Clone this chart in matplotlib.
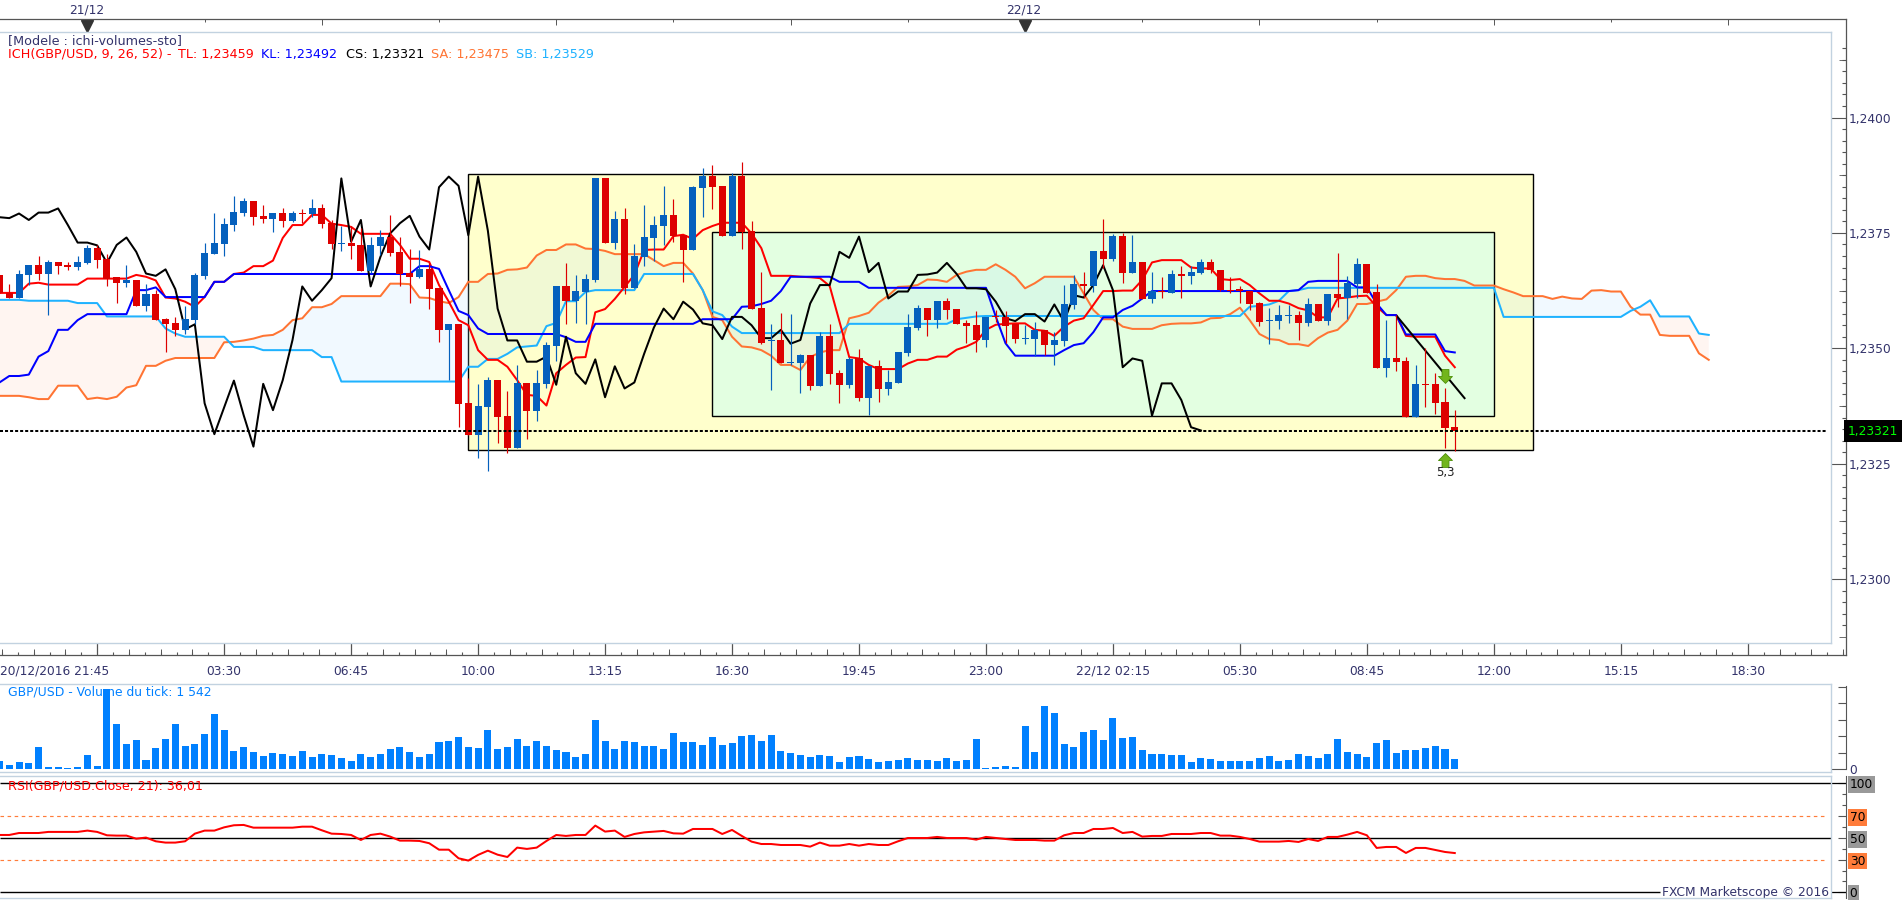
import numpy as np
import matplotlib
matplotlib.use("Agg")
import matplotlib.pyplot as plt
from matplotlib.lines import Line2D
from matplotlib.patches import Rectangle

# prices are kept in pips around 1,2350
BASE = 1.2350
PIP = 0.0001
LAST_PRICE = 1.23321

opens = [15.9,12.0,10.9,15.9,18.0,16.1,18.7,18.0,17.6,18.5,
         21.7,19.3,15.4,14.1,14.8,9.2,11.8,6.3,5.5,4.0,
         6.1,15.7,20.4,22.6,26.7,29.3,31.9,28.6,28.0,29.3,
         27.6,29.3,29.1,30.4,27.1,22.7,22.8,22.4,16.8,22.2,
         24.1,20.9,16.3,15.4,17.2,13.1,4.0,5.3,-11.8,-18.8,
         -12.7,-6.9,-14.7,-21.6,-7.5,-13.6,-7.7,0.5,13.5,10.2,
         12.2,14.8,36.9,22.8,28.0,13.1,19.8,23.9,26.5,28.9,
         24.5,21.3,34.7,37.3,35.2,24.3,37.3,25.4,8.7,1.5,
         1.8,-3.2,-3.2,-1.4,-8.2,2.6,-5.4,-7.9,-2.1,-10.8,
         -3.8,-8.8,-7.5,-1.0,4.4,8.7,6.1,10.2,8.5,5.5,
         5.0,1.8,6.9,6.8,5.3,2.1,2.0,4.0,0.7,1.6,
         9.4,14.0,13.5,21.1,19.3,24.3,16.3,18.7,10.7,12.4,
         12.0,16.1,15.7,16.3,18.7,17.0,12.6,12.8,12.4,9.8,
         5.9,5.9,7.1,7.2,5.5,9.6,6.0,11.8,10.9,14.0,
         18.3,12.2,-4.3,-2.1,-2.7,-14.9,-7.7,-7.7,-11.6,-17.0]
closes = [11.9,10.9,16.1,18.0,16.1,18.7,17.8,17.7,18.7,21.7,
          19.1,15.1,14.1,14.8,9.2,11.8,6.1,5.3,4.0,6.3,
          15.9,20.6,22.8,26.9,29.5,31.9,28.4,28.0,29.3,27.6,
          29.3,29.2,30.4,26.9,22.6,22.8,22.2,16.8,22.4,24.1,
          20.7,16.1,15.4,17.2,12.8,4.0,5.3,-12.1,-18.8,-12.5,
          -6.9,-14.9,-21.6,-7.5,-13.6,-7.5,0.7,13.5,10.2,12.4,
          15.0,36.9,22.8,28.0,13.1,20.0,24.1,26.7,28.9,24.3,
          21.3,34.9,37.3,34.9,24.3,37.3,25.2,8.5,1.2,1.8,
          -3.2,-3.0,-1.4,-8.2,2.6,-5.6,-7.9,-2.3,-10.8,-3.8,
          -8.8,-7.3,-0.8,4.6,8.7,6.1,10.2,8.3,5.3,4.9,
          1.8,6.8,6.7,4.8,2.0,2.2,4.0,0.7,1.8,9.6,
          14.0,13.6,21.1,19.3,24.3,16.3,18.7,10.7,12.4,12.1,
          16.1,15.7,16.5,18.7,17.0,12.6,12.4,12.4,9.6,5.7,
          6.1,7.2,7.2,5.5,9.6,6.0,11.8,10.9,14.2,18.3,
          12.0,-4.3,-2.1,-3.0,-14.9,-7.7,-7.9,-11.8,-17.3,-17.9]
highs = [15.9,13.9,17.0,18.0,20.0,19.1,18.7,18.7,20.0,22.4,
         22.4,20.4,15.4,18.0,14.8,13.9,12.6,6.6,6.8,9.2,
         16.3,22.8,29.3,28.2,33.0,32.6,31.9,31.0,29.3,30.4,
         29.7,30.2,32.3,31.3,27.8,26.5,26.5,26.0,24.1,25.6,
         28.9,24.2,21.5,21.3,18.4,13.1,5.3,5.3,-6.4,-7.7,
         -6.3,-6.9,-9.2,-3.6,-7.5,-4.7,1.4,13.5,18.5,15.9,
         16.1,36.9,36.9,29.7,30.4,22.6,31.0,28.7,35.2,32.3,
         24.5,35.2,39.1,39.7,35.2,38.0,40.4,27.6,16.5,5.3,
         7.6,7.4,-1.2,-1.4,3.5,5.3,-4.7,-1.9,-0.2,-3.8,
         -2.5,-4.7,-0.8,7.4,9.4,8.7,10.2,10.9,8.5,6.1,
         8.1,6.8,8.3,8.1,5.3,5.1,5.7,4.0,3.5,13.7,
         15.9,16.5,21.1,28.0,24.8,25.0,24.5,18.7,16.5,15.4,
         17.0,17.8,17.8,19.4,19.4,17.0,15.5,13.5,12.4,10.0,
         8.7,9.4,9.4,8.0,10.9,9.6,11.8,20.6,15.7,19.6,
         18.3,13.9,6.1,7.2,-1.9,-3.6,0.1,-5.3,-8.6,-13.4]
lows = [11.9,10.9,10.9,13.7,14.8,7.2,16.1,17.0,17.0,18.3,
        17.4,13.5,9.8,13.3,9.2,8.1,6.1,-0.8,2.7,3.1,
        5.3,15.0,20.4,20.0,25.4,28.6,26.7,27.1,25.2,26.3,
        27.3,27.1,28.4,26.0,21.5,21.1,19.3,16.8,16.3,20.2,
        20.0,13.5,9.8,15.2,8.5,1.4,-6.9,-17.0,-18.8,-23.8,
        -26.6,-20.5,-22.7,-21.6,-19.7,-15.7,-8.6,-2.7,5.3,5.5,
        5.3,14.4,22.8,21.5,11.8,13.1,17.8,18.9,22.4,23.0,
        14.4,21.3,28.4,30.2,24.3,24.3,21.5,8.5,0.9,-9.0,
        -3.2,-3.6,-9.7,-9.0,-8.2,-7.7,-11.8,-8.6,-11.4,-14.4,
        -11.6,-10.1,-7.5,-1.7,4.0,2.7,4.4,6.3,5.3,1.2,
        -0.8,0.3,5.8,1.2,1.2,0.9,-1.7,-1.4,-3.6,0.5,
        8.5,10.9,12.2,17.4,18.9,14.2,16.3,10.7,9.8,10.9,
        12.0,10.9,14.0,16.1,16.3,12.4,12.0,9.8,8.3,4.8,
        0.9,4.2,5.5,1.8,4.8,6.0,5.1,9.0,6.3,10.9,
        12.0,-4.3,-6.2,-4.9,-14.9,-14.9,-12.7,-14.2,-21.6,-22.2]

tenkan = [12.0,12.0,12.0,14.0,14.2,13.8,13.8,13.8,13.8,15.1,
          15.1,15.1,15.1,15.1,15.9,15.5,14.7,11.0,10.8,10.1,
          9.0,11.1,14.4,14.4,16.1,16.4,17.8,17.8,19.0,23.9,
          26.7,26.7,28.9,28.9,27.0,26.7,26.3,24.8,24.8,24.8,
          24.8,22.4,19.4,19.4,18.7,13.7,10.1,6.1,5.0,-0.4,
          -2.5,-2.5,-4.0,-6.9,-10.1,-10.3,-12.4,-5.4,-3.6,-2.0,
          -1.9,7.8,8.5,10.7,13.3,15.9,21.3,21.4,21.4,24.3,
          24.6,23.7,25.6,26.5,27.2,27.2,27.2,24.9,21.7,15.7,
          15.7,15.7,15.5,15.4,15.2,13.5,5.8,-1.9,-2.2,-3.6,
          -4.5,-4.5,-4.5,-3.3,-2.5,-2.5,-1.8,-1.8,-0.3,0.4,
          1.4,4.0,5.1,5.3,5.4,5.4,4.0,3.8,2.7,4.7,
          6.0,6.5,9.4,12.4,12.4,12.5,12.5,14.8,18.6,19.1,
          19.1,19.1,17.5,17.3,17.3,15.0,14.8,15.0,13.7,11.9,
          10.3,10.3,9.7,8.7,8.2,6.7,6.7,10.8,11.0,11.3,
          11.4,9.0,7.2,7.2,2.7,2.5,2.5,2.5,-1.6,-4.1]
kijun = ([-7.4,-6.0,-6.0,-5.7,-1.8,-0.6,4.0,4.0,6.1,7.4,
          7.4,7.4,7.4,7.4,12.6,12.6,13.2,11.1,11.1,11.1,
          11.1,11.1,14.4,14.4] + [16.1] * 19
         + [17.8,17.8,17.2,12.6,8.1,7.2,4.3] + [3.1] * 8 + [2.4,1.4,1.4]
         + [5.3] * 11 + [6.3] * 4 + [9.0,9.1,9.6,10.3,12.4] + [15.5] * 5
         + [14.4] * 3 + [13.1] * 13 + [6.9,1.1] + [-1.6] * 5
         + [-0.4,0.7,1.1,3.5,6.7,6.7,8.3,9.2,10.8] + [12.4] * 15
         + [12.6,14.4] + [14.6] * 4 + [13.2,13.2,9.7,7.2,7.2] + [3.0] * 4
         + [-0.6,-0.9])
chikou = [28.4,28.2,29.2,27.8,29.4,29.4,30.3,26.7,22.9,22.9,
          22.3,18.5,22.4,24.0,20.9,16.2,15.7,17.1,12.8,4.1,
          5.2,-11.9,-18.6,-12.8,-7.0,-14.5,-21.3,-7.7,-13.4,-6.9,
          1.8,13.4,10.3,12.6,15.2,36.8,23.1,27.8,13.4,19.8,
          24.9,27.1,28.7,24.2,21.4,34.9,37.2,35.2,24.5,37.2,
          25.5,8.6,1.7,1.7,-2.9,-2.9,-1.8,-7.9,2.5,-5.4,
          -7.7,-2.4,-10.6,-3.9,-8.7,-7.4,-1.2,4.5,8.6,6.3,
          10.1,8.4,5.4,5.0,2.0,6.8,6.8,5.0,2.2,2.2,
          4.0,1.0,1.8,9.7,13.7,13.7,20.9,19.6,24.2,16.5,
          18.5,10.8,12.3,12.3,15.9,16.0,16.4,18.5,16.1,13.0,
          13.0,12.8,10.1,6.5,5.9,7.4,7.4,5.8,9.5,5.8,
          11.5,11.0,13.7,18.0,12.6,-4.1,-2.2,-2.7,-14.6,-7.6,
          -7.6,-11.2,-17.1,-17.8]
span_a = [-10.3,-10.3,-10.3,-10.6,-11.0,-11.0,-8.1,-8.1,-8.1,-11.0,
          -10.7,-11.0,-10.5,-8.5,-8.0,-3.8,-3.8,-2.7,-2.1,-2.1,
          -2.1,-2.1,-2.1,1.3,1.4,1.7,2.1,2.7,2.9,4.0,
          6.1,6.5,8.9,8.9,9.6,11.3,11.3,11.3,11.3,11.3,
          14.0,14.0,13.9,11.0,10.9,10.2,9.8,11.1,14.4,14.4,
          16.1,16.2,17.0,17.1,17.5,20.1,21.3,21.3,22.5,22.5,
          21.6,21.5,21.1,20.4,20.4,20.4,20.4,19.1,17.8,18.5,
          18.5,16.2,12.6,6.8,6.1,2.5,0.4,0.2,-0.4,-1.6,
          -3.6,-3.6,-4.7,-1.9,-0.9,-0.4,-0.4,6.5,7.0,7.7,
          9.9,11.4,13.3,13.4,13.7,14.9,14.8,14.4,15.9,16.6,
          17.0,17.0,18.2,17.0,15.5,13.0,14.1,15.5,15.5,15.5,
          15.5,11.9,8.3,6.3,6.3,4.7,4.2,4.2,4.2,5.0,
          5.3,5.4,5.4,5.6,6.5,6.6,7.4,8.8,6.1,3.1,
          2.0,1.8,0.9,0.9,0.5,2.2,3.4,4.0,6.0,9.6,
          9.6,10.1,10.6,12.6,15.5,15.7,15.7,15.2,15.0,15.0,
          14.6,13.6,13.6,13.6,12.8,12.1,11.3,11.3,11.3,10.7,
          11.2,10.8,10.7,12.5,12.6,12.3,12.3,9.0,7.3,7.3,
          2.9,2.7,2.7,2.7,-1.1,-2.5]
span_b = ([10.5] * 3 + [10.3] * 5 + [9.8] * 3 + [6.9] * 6 + [4.3,3.2] + [2.5] * 5
          + [0.3] * 3 + [-0.4] * 6 + [-1.9] * 2 + [-7.2] * 13 + [-4.0] * 2 + [-2.3] * 2
          + [-1.2,0.2,0.4,0.6,4.8,5.5] + [10.2] * 2 + [12.2] + [12.6] * 5 + [16.1] * 6
          + [12.6,8.0,7.2,4.7] + [3.3] * 11 + [5.3] * 11 + [6.3,6.6,6.9] + [7.0] * 27
          + [9.0,9.2,9.5,10.3,12.4,12.6] + [13.1] * 20 + [6.8] * 13 + [8.1,9.0,10.4]
          + [6.9] * 4 + [3.2,2.9])

volumes = [1216,608,1064,912,3344,304,304,152,304,2128,456,12160,6840,3800,4408,1368,3192,4560,6840,3496,
           3800,5320,8360,5928,2736,3344,2584,1976,2432,2280,1976,2736,1824,2280,2128,1672,1216,2280,1824,2280,
           3040,3344,2584,1824,2280,4104,4256,4864,3344,3192,5928,3040,3344,4560,3496,4256,3496,2888,2584,1824,
           2280,7448,4256,3040,4256,4104,3496,3496,3040,5472,4104,4104,3648,4864,3648,3952,5016,5168,4256,5168,
           2736,2432,2128,1824,2128,1976,1064,1824,1976,1520,1064,1216,1368,1672,1368,1368,1216,1672,1216,1368,
           4560,152,304,456,304,6536,2584,9576,8512,3800,3344,5624,5928,4408,7752,4712,4864,2888,2280,2280,
           2128,2128,1064,1672,1520,1216,1216,1216,1216,1672,1976,1216,1368,2280,1976,1672,2280,4560,2584,2280,
           1824,3952,4408,2432,2888,2888,3192,3496,3040,1542]

rsi = [52.6,52.6,54.4,54.4,54.4,55.4,55.4,55.4,55.4,56.6,
       55.4,52.3,52.0,52.0,49.2,50.2,46.8,45.6,45.6,46.8,
       53.8,56.6,56.6,59.6,61.5,61.8,59.3,59.3,59.3,59.3,
       59.3,60.2,60.2,56.9,53.8,53.5,52.6,48.0,52.6,53.8,
       51.1,47.4,47.4,47.1,45.0,39.1,39.1,31.2,29.1,34.3,
       38.2,34.5,32.4,41.0,39.8,41.0,47.1,52.6,51.7,52.6,
       52.6,61.2,55.7,56.6,50.8,53.5,55.0,55.7,56.3,54.1,
       53.8,58.1,58.1,58.1,53.5,57.2,51.7,46.5,44.3,44.3,
       43.4,43.4,43.4,41.9,45.6,42.8,42.8,44.3,42.8,44.3,
       43.4,43.4,46.8,49.8,49.8,49.8,50.8,49.8,49.8,49.8,
       48.3,50.8,49.8,48.9,48.0,48.0,48.0,47.4,47.4,52.3,
       54.4,54.4,58.1,58.1,59.0,54.4,55.4,51.1,51.7,51.7,
       53.5,53.5,53.5,54.4,54.4,52.0,52.0,50.8,48.9,46.5,
       46.5,46.5,47.1,46.2,48.9,47.1,50.8,50.8,52.9,55.4,
       52.3,40.7,41.6,41.6,36.1,40.7,40.7,38.8,37.0,36.01]

time_labels = ["20/12/2016 21:45","03:30","06:45","10:00","13:15","16:30","19:45",
               "23:00","22/12 02:15","05:30","08:45","12:00","15:15","18:30"]
price_ticks = [1.2300, 1.2325, 1.2350, 1.2375, 1.2400]
price_labels = ["1,2300", "1,2325", "1,2350", "1,2375", "1,2400"]

# trend line and boxes drawn by hand on the platform: bar index / pips
trend_bars = [143.1, 150.0]
trend_vals = [6.9, -10.8]
outer_box = [48, 157, -22.1, 37.7]
inner_box = [73, 153, -14.7, 25.3]

W, H = 1903, 900
BAR_PX = 9.767
PX_PIP = 4.616
NAVY = "#33336b"
PALE = "#c2d2e0"
DARK = "#555555"
FS = 8.8
FS_LEG = 9.2
LW = 1.45


def box(x0, y0, x1, y1):
    return [x0 / W, 1 - y1 / H, (x1 - x0) / W, (y1 - y0) / H]


def pale(x0, y0, x1, y1):
    fig.add_artist(Line2D([x0 / W, x1 / W], [1 - y0 / H, 1 - y1 / H], color=PALE, lw=1.0))


def label(x, y, s, color=NAVY, ha="left", size=FS, **kw):
    return fig.text(x / W, 1 - y / H, s, color=color, ha=ha, va="center", fontsize=size, **kw)


plt.rcParams["font.family"] = "DejaVu Sans"
fig = plt.figure(figsize=(W / 100, H / 100), dpi=100, facecolor="white")

x_left = 0.5 / BAR_PX
x_right = 1846.5 / BAR_PX
bars = np.arange(len(opens))

ax = fig.add_axes(box(0, 19.3, 1846, 655))
ax.patch.set_alpha(0)
ax.spines["left"].set_visible(False)
for s in ["top", "bottom", "right"]:
    ax.spines[s].set_color(DARK)
    ax.spines[s].set_linewidth(0.9)


def px_price(v):
    return BASE + np.asarray(v, dtype=float) * PIP


# hand drawn boxes
for b, c in [(outer_box, "#ffffcc"), (inner_box, "#e3ffe1")]:
    ax.add_patch(Rectangle((b[0], px_price(b[2])), b[1] - b[0], (b[3] - b[2]) * PIP,
                           facecolor=c, edgecolor="black", lw=1.0, zorder=1))

# cloud
cloud_x = np.arange(len(span_a))
sa = px_price(span_a)
sb = px_price(span_b)
ax.fill_between(cloud_x, sa, sb, where=sa >= sb, interpolate=True, color="#a8dcff", alpha=0.16, lw=0, zorder=2)
ax.fill_between(cloud_x, sa, sb, where=sa <= sb, interpolate=True, color="#ffc8b4", alpha=0.18, lw=0, zorder=2)

ax.plot(cloud_x, sa, color="#ff7433", lw=LW, zorder=3)
ax.plot(cloud_x, sb, color="#1fb2ff", lw=LW, zorder=3)
ax.plot(np.arange(len(tenkan)), px_price(tenkan), color="#ff0000", lw=LW, zorder=3)
ax.plot(np.arange(len(kijun)), px_price(kijun), color="#0000ff", lw=LW, zorder=3)
ax.plot(np.arange(len(chikou)), px_price(chikou), color="black", lw=LW, zorder=3)
ax.plot(trend_bars, px_price(trend_vals), color="black", lw=LW, zorder=3)

# candles
o = px_price(opens)
c = px_price(closes)
candle_colors = np.where(c >= o, "#0560bd", "#dd0000")
ax.vlines(bars, px_price(lows), px_price(highs), colors=candle_colors, lw=0.85, zorder=4)
ax.bar(bars, np.abs(c - o), bottom=np.minimum(o, c), width=0.72, color=candle_colors,
       antialiased=False, lw=0, zorder=4)

# current price
ax.plot([x_left, 1827 / BAR_PX], [LAST_PRICE, LAST_PRICE], color="black", lw=1.45,
        linestyle=(0, (1.5, 1.0)), zorder=5)

# signal arrows
up_arrow = [(-1, 0), (0, 1), (1, 0), (0.5, 0), (0.5, -1), (-0.5, -1), (-0.5, 0), (-1, 0)]
down_arrow = [(x, -y) for x, y in up_arrow]
ax.plot([148], px_price([-24.2]), marker=up_arrow, ms=10, mfc="#72b51c", mec="#4e8f08", mew=0.6, zorder=6, ls="none")
ax.plot([148], px_price([-6.0]), marker=down_arrow, ms=10, mfc="#72b51c", mec="#4e8f08", mew=0.6, zorder=6, ls="none")
ax.text(148, px_price(-26.9), "5,3", color="#222222", fontsize=8.4, ha="center", va="center", zorder=6)

# price axis
minor_prices = np.arange(1.2290, 1.24151, 0.00025)
ax.yaxis.tick_right()
ax.set_yticks(price_ticks)
ax.set_yticklabels(price_labels)
ax.set_yticks(minor_prices, minor=True)
ax.tick_params(axis="y", which="major", direction="in", length=10.8, width=0.8, color=DARK,
               labelcolor=NAVY, labelsize=FS, pad=2.2)
ax.tick_params(axis="y", which="minor", direction="in", length=2.9, width=0.8, color=DARK)
mid_prices = [1.22875 + 0.0025 * i for i in range(6)]
ax.hlines(mid_prices, 1838.5 / 1846, 1, transform=ax.get_yaxis_transform(), color=DARK, lw=0.6)

# time axis, bottom
major_bars = 10 + 13 * np.arange(len(time_labels))
ax.set_xticks(major_bars)
ax.set_xticklabels([""] + time_labels[1:])
sub_bars = np.array([10 + 13 / 8 * i for i in range(-6, 8 * 14 + 2) if i % 8 != 0])
ax.set_xticks(sub_bars[(sub_bars > x_left) & (sub_bars < x_right)], minor=True)
ax.tick_params(axis="x", which="major", direction="in", length=8.6, width=0.9, color=DARK,
               labelcolor=NAVY, labelsize=FS, pad=7.2)
ax.tick_params(axis="x", which="minor", direction="in", length=2.2, width=0.8, color=DARK)
h_main = 655 - 19.3
medium = np.array([10 + 13 / 4 * i for i in range(-3, 4 * 14 + 1) if i % 4 != 0])
medium = medium[(medium > x_left) & (medium < x_right)]
ax.vlines(medium, 0, 6 / h_main, transform=ax.get_xaxis_transform(), color=DARK, lw=0.7)
label(0.5, 670.7, time_labels[0])

# day ticks on top
top_bars = 9 + 12 * np.arange(15)
top_bars = top_bars[top_bars < x_right]
for i, k in enumerate(top_bars):
    if i % 8 == 0:
        continue
    ln = 6 if i % 2 == 0 else 3
    ax.vlines(k, 1 - ln / h_main, 1, transform=ax.get_xaxis_transform(), color=DARK, lw=0.7)
ax.plot([9, 105], [1 - 6.5 / h_main] * 2, transform=ax.get_xaxis_transform(), marker="v", ms=8,
        mfc="#333333", mec="#333333", ls="none", clip_on=False)
label(86.5, 9.7, "21/12", ha="center")
label(1024, 9.7, "22/12", ha="center")

# set_xticks above widens the view, so the limits go last
ax.set_xlim(x_left, x_right)
ax.set_ylim(BASE - (655 - 348.3) / PX_PIP * PIP, BASE + (348.3 - 19.3) / PX_PIP * PIP)

# volume panel
axv = fig.add_axes(box(0, 684.3, 1846, 772.3))
axv.patch.set_alpha(0)
axv.text(0.0045, 0.915, "GBP/USD - Volume du tick: 1 542", transform=axv.transAxes, color="#0080ff",
         fontsize=8.9, ha="left", va="center", zorder=1)
axv.bar(bars, volumes, width=0.72, color="#0080ff", antialiased=False, lw=0, zorder=3)
for s in ["top", "bottom", "left"]:
    axv.spines[s].set_visible(False)
axv.spines["right"].set_color(DARK)
axv.spines["right"].set_bounds(0, 12600)
axv.xaxis.set_visible(False)
axv.yaxis.tick_right()
axv.set_yticks([0])
axv.set_yticklabels(["0"])
axv.set_yticks([2500, 5000, 7500, 10000, 12500], minor=True)
axv.tick_params(axis="y", which="major", direction="in", length=10.8, width=0.8, color=DARK,
                labelcolor=NAVY, labelsize=FS, pad=2.2)
axv.tick_params(axis="y", which="minor", direction="in", length=5.8, width=0.8, color=DARK)
axv.set_xlim(x_left, x_right)
axv.set_ylim(-3.3 * 152.4, (769 - 684.3) * 152.4)

# rsi panel
axr = fig.add_axes(box(0, 776.3, 1846, 898.3))
axr.patch.set_alpha(0)
rsi_end = 1831 / BAR_PX
axr.hlines([100, 50], x_left, rsi_end, color="black", lw=1.0, zorder=2)
axr.hlines([0], x_left, 1660 / BAR_PX, color="black", lw=1.0, zorder=2)
axr.hlines([70, 30], x_left, 1827 / BAR_PX, color="#ff7c3a", lw=0.85, linestyles=(0, (3, 3)), zorder=2)
axr.plot(bars, rsi, color="#ff0000", lw=LW, zorder=3)
axr.text(0.0045, 97.2, "RSI(GBP/USD.Close, 21): 36,01", color="#ff0000", fontsize=9.1,
         transform=axr.get_yaxis_transform(), ha="left", va="center", zorder=4)
axr.text(1829 / BAR_PX, -0.2, "FXCM Marketscope © 2016", color=NAVY, fontsize=FS, ha="right", va="center",
         bbox=dict(facecolor="white", edgecolor="none", pad=0.6), zorder=4)
for s in ["top", "bottom", "left"]:
    axr.spines[s].set_visible(False)
axr.spines["right"].set_color(DARK)
axr.xaxis.set_visible(False)
axr.yaxis.tick_right()
axr.set_yticks([0, 30, 50, 70, 100])
axr.set_yticklabels(["0", "30", "50", "70", "100"])
axr.set_yticks(np.arange(10, 100, 10), minor=True)
axr.tick_params(axis="y", which="major", direction="in", length=5.8, width=0.8, color=DARK,
                labelcolor="black", labelsize=FS, pad=2.6)
axr.tick_params(axis="y", which="minor", direction="in", length=2.9, width=0.8, color=DARK)
for t, col in zip(axr.get_yticklabels(), ["#999999", "#ff7c3a", "#999999", "#ff7c3a", "#999999"]):
    t.set_bbox(dict(facecolor=col, edgecolor="none", pad=1.3))
axr.hlines([0, 100], 1831 / BAR_PX, x_right, color="black", lw=0.9)
axr.set_xlim(x_left, x_right)
axr.set_ylim(-(898.3 - 892.3) / 1.09, 100 + (783.3 - 776.3) / 1.09)

# panel borders
pale(0, 32.3, 1831, 32.3)
pale(1831, 32.3, 1831, 643)
pale(0, 643, 1831, 643)
pale(0, 684.3, 1831, 684.3)
pale(1831, 684.3, 1831, 772.3)
pale(0, 772.3, 1831, 772.3)
pale(0, 776.3, 1831, 776.3)
pale(1831, 776.3, 1831, 898.3)
pale(0, 898.3, 1831, 898.3)

# legend lines
label(8, 40.3, "[Modele : ichi-volumes-sto]", size=FS_LEG)
label(8, 54.3, "ICH(GBP/USD, 9, 26, 52) -", color="#ff0000", size=FS_LEG)
label(177.5, 54.3, "TL: 1,23459", color="#ff0000", size=FS_LEG)
label(261, 54.3, "KL: 1,23492", color="#0000ff", size=FS_LEG)
label(346, 54.3, "CS: 1,23321", color="black", size=FS_LEG)
label(431, 54.3, "SA: 1,23475", color="#ff7433", size=FS_LEG)
label(516, 54.3, "SB: 1,23529", color="#1fb2ff", size=FS_LEG)

# last price tag
label(1873, 431, "1,23321", color="#00ff00", ha="center",
      bbox=dict(facecolor="black", edgecolor="none", pad=2.9))

fig.savefig("out.png", dpi=100)
